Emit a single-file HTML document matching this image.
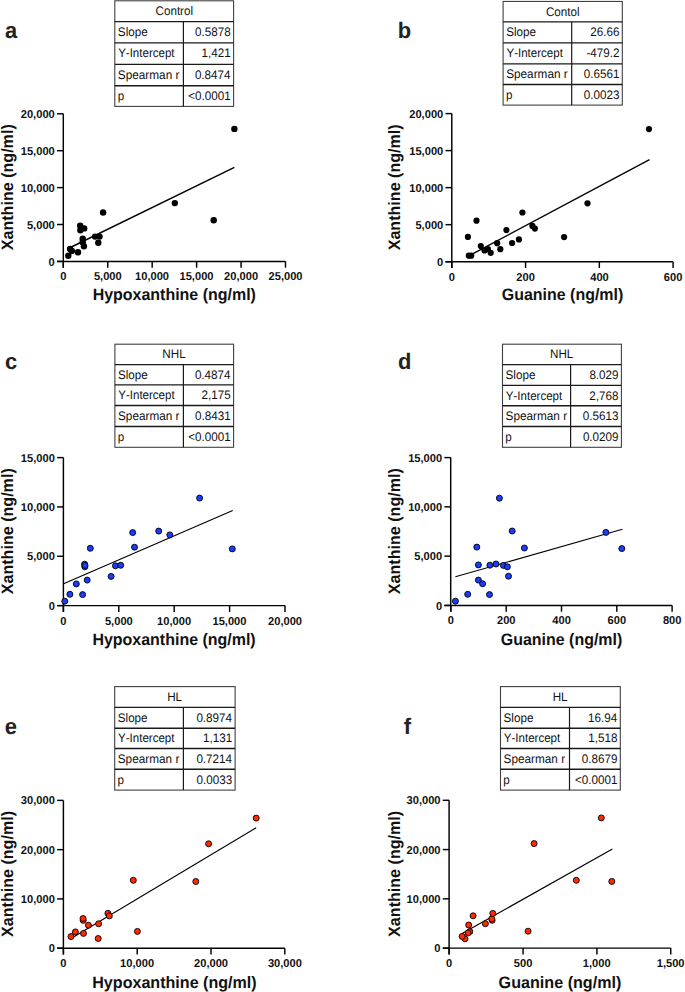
<!DOCTYPE html>
<html><head><meta charset="utf-8"><title>Figure</title>
<style>
html,body{margin:0;padding:0;background:#fff;}
body{width:685px;height:992px;overflow:hidden;}
svg{display:block;font-family:"Liberation Sans", sans-serif;}
text{font-kerning:none;text-rendering:geometricPrecision;}
</style></head>
<body>
<svg width="685" height="992" viewBox="0 0 685 992">
<rect width="685" height="992" fill="#fff"/>
<text x="4.96" y="37.60" font-size="22.5" font-weight="bold" fill="#222" textLength="12.20" lengthAdjust="spacingAndGlyphs">a</text>
<g fill="none" stroke="#1a1a1a">
<rect x="114.80" y="0.80" width="118.80" height="105.60" stroke-width="1.1" stroke="#404040"/>
<line x1="114.80" y1="21.60" x2="233.60" y2="21.60" stroke-width="1.4"/>
<line x1="114.80" y1="42.90" x2="233.60" y2="42.90" stroke-width="1.4"/>
<line x1="114.80" y1="64.40" x2="233.60" y2="64.40" stroke-width="1.4"/>
<line x1="114.80" y1="85.80" x2="233.60" y2="85.80" stroke-width="1.4"/>
<line x1="183.40" y1="21.60" x2="183.40" y2="106.40" stroke-width="1.2"/>
</g>
<text x="155.51" y="15.20" font-size="12.4" font-weight="normal" fill="#111" textLength="37.57" lengthAdjust="spacingAndGlyphs">Control</text>
<text x="117.87" y="36.00" font-size="12.4" font-weight="normal" fill="#111" textLength="29.81" lengthAdjust="spacingAndGlyphs">Slope</text>
<text x="195.06" y="36.00" font-size="12.4" font-weight="normal" fill="#111" textLength="35.65" lengthAdjust="spacingAndGlyphs">0.5878</text>
<text x="118.15" y="57.30" font-size="12.4" font-weight="normal" fill="#111" textLength="56.40" lengthAdjust="spacingAndGlyphs">Y-Intercept</text>
<text x="201.60" y="57.30" font-size="12.4" font-weight="normal" fill="#111" textLength="29.17" lengthAdjust="spacingAndGlyphs">1,421</text>
<text x="117.87" y="78.80" font-size="12.4" font-weight="normal" fill="#111" textLength="61.55" lengthAdjust="spacingAndGlyphs">Spearman r</text>
<text x="194.89" y="78.80" font-size="12.4" font-weight="normal" fill="#111" textLength="35.65" lengthAdjust="spacingAndGlyphs">0.8474</text>
<text x="117.65" y="100.20" font-size="12.4" font-weight="normal" fill="#111" textLength="6.48" lengthAdjust="spacingAndGlyphs">p</text>
<text x="188.31" y="100.20" font-size="12.4" font-weight="normal" fill="#111" textLength="42.46" lengthAdjust="spacingAndGlyphs">&lt;0.0001</text>
<g stroke="#000" stroke-width="1.45" fill="none" stroke-linecap="butt">
<path d="M63.30,113.80 V267.70 M57.00,261.40 H285.50"/>
<path d="M63.30,261.40 v6.3"/>
<path d="M107.74,261.40 v6.3"/>
<path d="M152.18,261.40 v6.3"/>
<path d="M196.62,261.40 v6.3"/>
<path d="M241.06,261.40 v6.3"/>
<path d="M285.50,261.40 v6.3"/>
<path d="M63.30,261.40 h-6.3"/>
<path d="M63.30,224.50 h-6.3"/>
<path d="M63.30,187.60 h-6.3"/>
<path d="M63.30,150.70 h-6.3"/>
<path d="M63.30,113.80 h-6.3"/>
</g>
<text x="60.22" y="280.30" font-size="11.4" font-weight="bold" fill="#111" textLength="6.18" lengthAdjust="spacingAndGlyphs">0</text>
<text x="93.89" y="280.30" font-size="11.4" font-weight="bold" fill="#111" textLength="27.81" lengthAdjust="spacingAndGlyphs">5,000</text>
<text x="135.06" y="280.30" font-size="11.4" font-weight="bold" fill="#111" textLength="34.00" lengthAdjust="spacingAndGlyphs">10,000</text>
<text x="179.50" y="280.30" font-size="11.4" font-weight="bold" fill="#111" textLength="34.00" lengthAdjust="spacingAndGlyphs">15,000</text>
<text x="224.10" y="280.30" font-size="11.4" font-weight="bold" fill="#111" textLength="34.00" lengthAdjust="spacingAndGlyphs">20,000</text>
<text x="268.54" y="280.30" font-size="11.4" font-weight="bold" fill="#111" textLength="34.00" lengthAdjust="spacingAndGlyphs">25,000</text>
<text x="48.57" y="265.50" font-size="11.4" font-weight="bold" fill="#111" textLength="6.18" lengthAdjust="spacingAndGlyphs">0</text>
<text x="26.94" y="228.60" font-size="11.4" font-weight="bold" fill="#111" textLength="27.81" lengthAdjust="spacingAndGlyphs">5,000</text>
<text x="20.76" y="191.70" font-size="11.4" font-weight="bold" fill="#111" textLength="34.00" lengthAdjust="spacingAndGlyphs">10,000</text>
<text x="20.76" y="154.80" font-size="11.4" font-weight="bold" fill="#111" textLength="34.00" lengthAdjust="spacingAndGlyphs">15,000</text>
<text x="20.76" y="117.90" font-size="11.4" font-weight="bold" fill="#111" textLength="34.00" lengthAdjust="spacingAndGlyphs">20,000</text>
<text x="92.63" y="300.30" font-size="16.5" font-weight="bold" fill="#111" textLength="163.27" lengthAdjust="spacingAndGlyphs">Hypoxanthine (ng/ml)</text>
<text transform="rotate(-90)" x="-250.28" y="13.00" font-size="16.5" font-weight="bold" fill="#111" textLength="126.01" lengthAdjust="spacingAndGlyphs">Xanthine (ng/ml)</text>
<line x1="68.30" y1="248.50" x2="234.40" y2="167.40" stroke="#000" stroke-width="1.4"/>
<g fill="#000">
<circle cx="103.10" cy="212.50" r="3.2"/>
<circle cx="80.20" cy="225.70" r="3.2"/>
<circle cx="84.20" cy="228.40" r="3.2"/>
<circle cx="80.40" cy="230.20" r="3.2"/>
<circle cx="82.70" cy="238.80" r="3.2"/>
<circle cx="82.70" cy="242.30" r="3.2"/>
<circle cx="83.90" cy="246.30" r="3.2"/>
<circle cx="95.10" cy="236.60" r="3.2"/>
<circle cx="99.50" cy="236.60" r="3.2"/>
<circle cx="98.30" cy="242.80" r="3.2"/>
<circle cx="70.10" cy="249.00" r="3.2"/>
<circle cx="71.80" cy="251.00" r="3.2"/>
<circle cx="78.00" cy="252.30" r="3.2"/>
<circle cx="68.30" cy="255.80" r="3.2"/>
<circle cx="174.80" cy="203.10" r="3.2"/>
<circle cx="213.70" cy="220.30" r="3.2"/>
<circle cx="234.40" cy="128.90" r="3.2"/>
</g>
<text x="397.75" y="37.70" font-size="22.5" font-weight="bold" fill="#222" textLength="13.40" lengthAdjust="spacingAndGlyphs">b</text>
<g fill="none" stroke="#1a1a1a">
<rect x="503.10" y="1.45" width="119.20" height="103.65" stroke-width="1.1" stroke="#404040"/>
<line x1="503.10" y1="21.90" x2="622.30" y2="21.90" stroke-width="1.4"/>
<line x1="503.10" y1="42.90" x2="622.30" y2="42.90" stroke-width="1.4"/>
<line x1="503.10" y1="63.90" x2="622.30" y2="63.90" stroke-width="1.4"/>
<line x1="503.10" y1="84.50" x2="622.30" y2="84.50" stroke-width="1.4"/>
<line x1="571.70" y1="21.90" x2="571.70" y2="105.10" stroke-width="1.2"/>
</g>
<text x="545.95" y="15.85" font-size="12.4" font-weight="normal" fill="#111" textLength="33.69" lengthAdjust="spacingAndGlyphs">Contol</text>
<text x="506.17" y="36.30" font-size="12.4" font-weight="normal" fill="#111" textLength="29.81" lengthAdjust="spacingAndGlyphs">Slope</text>
<text x="590.24" y="36.30" font-size="12.4" font-weight="normal" fill="#111" textLength="29.17" lengthAdjust="spacingAndGlyphs">26.66</text>
<text x="506.45" y="57.30" font-size="12.4" font-weight="normal" fill="#111" textLength="56.40" lengthAdjust="spacingAndGlyphs">Y-Intercept</text>
<text x="586.44" y="57.30" font-size="12.4" font-weight="normal" fill="#111" textLength="33.05" lengthAdjust="spacingAndGlyphs">-479.2</text>
<text x="506.17" y="78.30" font-size="12.4" font-weight="normal" fill="#111" textLength="61.55" lengthAdjust="spacingAndGlyphs">Spearman r</text>
<text x="583.82" y="78.30" font-size="12.4" font-weight="normal" fill="#111" textLength="35.65" lengthAdjust="spacingAndGlyphs">0.6561</text>
<text x="505.95" y="98.90" font-size="12.4" font-weight="normal" fill="#111" textLength="6.48" lengthAdjust="spacingAndGlyphs">p</text>
<text x="583.76" y="98.90" font-size="12.4" font-weight="normal" fill="#111" textLength="35.65" lengthAdjust="spacingAndGlyphs">0.0023</text>
<g stroke="#000" stroke-width="1.45" fill="none" stroke-linecap="butt">
<path d="M451.80,113.60 V268.00 M445.50,261.70 H673.10"/>
<path d="M451.80,261.70 v6.3"/>
<path d="M525.57,261.70 v6.3"/>
<path d="M599.34,261.70 v6.3"/>
<path d="M673.11,261.70 v6.3"/>
<path d="M451.80,261.70 h-6.3"/>
<path d="M451.80,224.67 h-6.3"/>
<path d="M451.80,187.64 h-6.3"/>
<path d="M451.80,150.61 h-6.3"/>
<path d="M451.80,113.58 h-6.3"/>
</g>
<text x="448.72" y="280.60" font-size="11.4" font-weight="bold" fill="#111" textLength="6.18" lengthAdjust="spacingAndGlyphs">0</text>
<text x="516.33" y="280.60" font-size="11.4" font-weight="bold" fill="#111" textLength="18.54" lengthAdjust="spacingAndGlyphs">200</text>
<text x="590.21" y="280.60" font-size="11.4" font-weight="bold" fill="#111" textLength="18.54" lengthAdjust="spacingAndGlyphs">400</text>
<text x="663.86" y="280.60" font-size="11.4" font-weight="bold" fill="#111" textLength="18.54" lengthAdjust="spacingAndGlyphs">600</text>
<text x="437.07" y="265.80" font-size="11.4" font-weight="bold" fill="#111" textLength="6.18" lengthAdjust="spacingAndGlyphs">0</text>
<text x="415.44" y="228.77" font-size="11.4" font-weight="bold" fill="#111" textLength="27.81" lengthAdjust="spacingAndGlyphs">5,000</text>
<text x="409.26" y="191.74" font-size="11.4" font-weight="bold" fill="#111" textLength="34.00" lengthAdjust="spacingAndGlyphs">10,000</text>
<text x="409.26" y="154.71" font-size="11.4" font-weight="bold" fill="#111" textLength="34.00" lengthAdjust="spacingAndGlyphs">15,000</text>
<text x="409.26" y="117.68" font-size="11.4" font-weight="bold" fill="#111" textLength="34.00" lengthAdjust="spacingAndGlyphs">20,000</text>
<text x="501.74" y="300.30" font-size="16.5" font-weight="bold" fill="#111" textLength="121.56" lengthAdjust="spacingAndGlyphs">Guanine (ng/ml)</text>
<text transform="rotate(-90)" x="-250.33" y="399.90" font-size="16.5" font-weight="bold" fill="#111" textLength="126.01" lengthAdjust="spacingAndGlyphs">Xanthine (ng/ml)</text>
<line x1="467.90" y1="256.40" x2="649.50" y2="159.60" stroke="#000" stroke-width="1.4"/>
<g fill="#000">
<circle cx="476.50" cy="220.70" r="3.1"/>
<circle cx="467.90" cy="236.90" r="3.1"/>
<circle cx="468.80" cy="255.70" r="3.1"/>
<circle cx="471.20" cy="255.70" r="3.1"/>
<circle cx="480.80" cy="246.10" r="3.1"/>
<circle cx="484.50" cy="250.50" r="3.1"/>
<circle cx="487.90" cy="249.20" r="3.1"/>
<circle cx="490.70" cy="252.80" r="3.1"/>
<circle cx="497.20" cy="243.20" r="3.1"/>
<circle cx="500.30" cy="249.20" r="3.1"/>
<circle cx="506.40" cy="230.10" r="3.1"/>
<circle cx="512.10" cy="243.00" r="3.1"/>
<circle cx="518.90" cy="239.40" r="3.1"/>
<circle cx="522.40" cy="212.50" r="3.1"/>
<circle cx="532.40" cy="225.90" r="3.1"/>
<circle cx="534.90" cy="228.60" r="3.1"/>
<circle cx="564.10" cy="237.10" r="3.1"/>
<circle cx="587.50" cy="203.30" r="3.1"/>
<circle cx="649.00" cy="129.10" r="3.1"/>
</g>
<text x="4.94" y="369.00" font-size="22.5" font-weight="bold" fill="#222" textLength="12.20" lengthAdjust="spacingAndGlyphs">c</text>
<g fill="none" stroke="#1a1a1a">
<rect x="114.90" y="344.20" width="118.70" height="103.10" stroke-width="1.1" stroke="#404040"/>
<line x1="114.90" y1="364.60" x2="233.60" y2="364.60" stroke-width="1.4"/>
<line x1="114.90" y1="384.90" x2="233.60" y2="384.90" stroke-width="1.4"/>
<line x1="114.90" y1="405.50" x2="233.60" y2="405.50" stroke-width="1.4"/>
<line x1="114.90" y1="426.50" x2="233.60" y2="426.50" stroke-width="1.4"/>
<line x1="183.40" y1="364.60" x2="183.40" y2="447.30" stroke-width="1.2"/>
</g>
<text x="162.31" y="358.40" font-size="12.4" font-weight="normal" fill="#111" textLength="23.32" lengthAdjust="spacingAndGlyphs">NHL</text>
<text x="117.97" y="378.80" font-size="12.4" font-weight="normal" fill="#111" textLength="29.81" lengthAdjust="spacingAndGlyphs">Slope</text>
<text x="194.89" y="378.80" font-size="12.4" font-weight="normal" fill="#111" textLength="35.65" lengthAdjust="spacingAndGlyphs">0.4874</text>
<text x="118.25" y="399.10" font-size="12.4" font-weight="normal" fill="#111" textLength="56.40" lengthAdjust="spacingAndGlyphs">Y-Intercept</text>
<text x="201.52" y="399.10" font-size="12.4" font-weight="normal" fill="#111" textLength="29.17" lengthAdjust="spacingAndGlyphs">2,175</text>
<text x="117.97" y="419.70" font-size="12.4" font-weight="normal" fill="#111" textLength="61.55" lengthAdjust="spacingAndGlyphs">Spearman r</text>
<text x="195.12" y="419.70" font-size="12.4" font-weight="normal" fill="#111" textLength="35.65" lengthAdjust="spacingAndGlyphs">0.8431</text>
<text x="117.75" y="440.70" font-size="12.4" font-weight="normal" fill="#111" textLength="6.48" lengthAdjust="spacingAndGlyphs">p</text>
<text x="188.31" y="440.70" font-size="12.4" font-weight="normal" fill="#111" textLength="42.46" lengthAdjust="spacingAndGlyphs">&lt;0.0001</text>
<g stroke="#000" stroke-width="1.45" fill="none" stroke-linecap="butt">
<path d="M63.40,457.60 V611.90 M57.10,605.60 H285.00"/>
<path d="M63.40,605.60 v6.3"/>
<path d="M118.80,605.60 v6.3"/>
<path d="M174.20,605.60 v6.3"/>
<path d="M229.60,605.60 v6.3"/>
<path d="M285.00,605.60 v6.3"/>
<path d="M63.40,605.60 h-6.3"/>
<path d="M63.40,556.27 h-6.3"/>
<path d="M63.40,506.94 h-6.3"/>
<path d="M63.40,457.61 h-6.3"/>
</g>
<text x="60.32" y="624.50" font-size="11.4" font-weight="bold" fill="#111" textLength="6.18" lengthAdjust="spacingAndGlyphs">0</text>
<text x="104.95" y="624.50" font-size="11.4" font-weight="bold" fill="#111" textLength="27.81" lengthAdjust="spacingAndGlyphs">5,000</text>
<text x="157.08" y="624.50" font-size="11.4" font-weight="bold" fill="#111" textLength="34.00" lengthAdjust="spacingAndGlyphs">10,000</text>
<text x="212.48" y="624.50" font-size="11.4" font-weight="bold" fill="#111" textLength="34.00" lengthAdjust="spacingAndGlyphs">15,000</text>
<text x="268.04" y="624.50" font-size="11.4" font-weight="bold" fill="#111" textLength="34.00" lengthAdjust="spacingAndGlyphs">20,000</text>
<text x="48.67" y="609.70" font-size="11.4" font-weight="bold" fill="#111" textLength="6.18" lengthAdjust="spacingAndGlyphs">0</text>
<text x="27.04" y="560.37" font-size="11.4" font-weight="bold" fill="#111" textLength="27.81" lengthAdjust="spacingAndGlyphs">5,000</text>
<text x="20.86" y="511.04" font-size="11.4" font-weight="bold" fill="#111" textLength="34.00" lengthAdjust="spacingAndGlyphs">10,000</text>
<text x="20.86" y="461.71" font-size="11.4" font-weight="bold" fill="#111" textLength="34.00" lengthAdjust="spacingAndGlyphs">15,000</text>
<text x="92.43" y="645.30" font-size="16.5" font-weight="bold" fill="#111" textLength="163.27" lengthAdjust="spacingAndGlyphs">Hypoxanthine (ng/ml)</text>
<text transform="rotate(-90)" x="-594.28" y="13.00" font-size="16.5" font-weight="bold" fill="#111" textLength="126.01" lengthAdjust="spacingAndGlyphs">Xanthine (ng/ml)</text>
<line x1="63.60" y1="583.80" x2="232.70" y2="510.50" stroke="#000" stroke-width="1.15"/>
<g fill="#1a3cff" stroke="#000" stroke-width="0.9">
<circle cx="64.80" cy="601.20" r="3.0"/>
<circle cx="69.90" cy="594.30" r="3.0"/>
<circle cx="76.30" cy="583.90" r="3.0"/>
<circle cx="82.60" cy="594.60" r="3.0"/>
<circle cx="84.60" cy="564.20" r="3.0"/>
<circle cx="84.80" cy="566.80" r="3.0"/>
<circle cx="85.00" cy="565.40" r="3.0"/>
<circle cx="87.20" cy="580.10" r="3.0"/>
<circle cx="90.30" cy="548.30" r="3.0"/>
<circle cx="111.10" cy="576.40" r="3.0"/>
<circle cx="115.50" cy="565.80" r="3.0"/>
<circle cx="120.70" cy="565.30" r="3.0"/>
<circle cx="132.70" cy="532.60" r="3.0"/>
<circle cx="134.50" cy="547.20" r="3.0"/>
<circle cx="158.70" cy="531.10" r="3.0"/>
<circle cx="169.80" cy="534.90" r="3.0"/>
<circle cx="199.60" cy="498.10" r="3.0"/>
<circle cx="232.30" cy="548.90" r="3.0"/>
</g>
<text x="397.90" y="368.70" font-size="22.5" font-weight="bold" fill="#222" textLength="13.40" lengthAdjust="spacingAndGlyphs">d</text>
<g fill="none" stroke="#1a1a1a">
<rect x="502.50" y="344.20" width="118.90" height="103.10" stroke-width="1.1" stroke="#404040"/>
<line x1="502.50" y1="364.60" x2="621.40" y2="364.60" stroke-width="1.4"/>
<line x1="502.50" y1="385.40" x2="621.40" y2="385.40" stroke-width="1.4"/>
<line x1="502.50" y1="405.70" x2="621.40" y2="405.70" stroke-width="1.4"/>
<line x1="502.50" y1="426.50" x2="621.40" y2="426.50" stroke-width="1.4"/>
<line x1="570.60" y1="364.60" x2="570.60" y2="447.30" stroke-width="1.2"/>
</g>
<text x="550.01" y="358.40" font-size="12.4" font-weight="normal" fill="#111" textLength="23.32" lengthAdjust="spacingAndGlyphs">NHL</text>
<text x="505.57" y="378.80" font-size="12.4" font-weight="normal" fill="#111" textLength="29.81" lengthAdjust="spacingAndGlyphs">Slope</text>
<text x="589.38" y="378.80" font-size="12.4" font-weight="normal" fill="#111" textLength="29.17" lengthAdjust="spacingAndGlyphs">8.029</text>
<text x="505.85" y="399.60" font-size="12.4" font-weight="normal" fill="#111" textLength="56.40" lengthAdjust="spacingAndGlyphs">Y-Intercept</text>
<text x="589.34" y="399.60" font-size="12.4" font-weight="normal" fill="#111" textLength="29.17" lengthAdjust="spacingAndGlyphs">2,768</text>
<text x="505.57" y="419.90" font-size="12.4" font-weight="normal" fill="#111" textLength="61.55" lengthAdjust="spacingAndGlyphs">Spearman r</text>
<text x="582.86" y="419.90" font-size="12.4" font-weight="normal" fill="#111" textLength="35.65" lengthAdjust="spacingAndGlyphs">0.5613</text>
<text x="505.35" y="440.70" font-size="12.4" font-weight="normal" fill="#111" textLength="6.48" lengthAdjust="spacingAndGlyphs">p</text>
<text x="582.90" y="440.70" font-size="12.4" font-weight="normal" fill="#111" textLength="35.65" lengthAdjust="spacingAndGlyphs">0.0209</text>
<g stroke="#000" stroke-width="1.45" fill="none" stroke-linecap="butt">
<path d="M450.70,457.60 V611.70 M444.40,605.40 H672.20"/>
<path d="M450.90,605.40 v6.3"/>
<path d="M506.20,605.40 v6.3"/>
<path d="M561.50,605.40 v6.3"/>
<path d="M616.80,605.40 v6.3"/>
<path d="M672.10,605.40 v6.3"/>
<path d="M450.70,605.40 h-6.3"/>
<path d="M450.70,556.13 h-6.3"/>
<path d="M450.70,506.86 h-6.3"/>
<path d="M450.70,457.59 h-6.3"/>
</g>
<text x="447.82" y="624.30" font-size="11.4" font-weight="bold" fill="#111" textLength="6.18" lengthAdjust="spacingAndGlyphs">0</text>
<text x="496.96" y="624.30" font-size="11.4" font-weight="bold" fill="#111" textLength="18.54" lengthAdjust="spacingAndGlyphs">200</text>
<text x="552.37" y="624.30" font-size="11.4" font-weight="bold" fill="#111" textLength="18.54" lengthAdjust="spacingAndGlyphs">400</text>
<text x="607.55" y="624.30" font-size="11.4" font-weight="bold" fill="#111" textLength="18.54" lengthAdjust="spacingAndGlyphs">600</text>
<text x="662.88" y="624.30" font-size="11.4" font-weight="bold" fill="#111" textLength="18.54" lengthAdjust="spacingAndGlyphs">800</text>
<text x="435.97" y="609.50" font-size="11.4" font-weight="bold" fill="#111" textLength="6.18" lengthAdjust="spacingAndGlyphs">0</text>
<text x="414.34" y="560.23" font-size="11.4" font-weight="bold" fill="#111" textLength="27.81" lengthAdjust="spacingAndGlyphs">5,000</text>
<text x="408.16" y="510.96" font-size="11.4" font-weight="bold" fill="#111" textLength="34.00" lengthAdjust="spacingAndGlyphs">10,000</text>
<text x="408.16" y="461.69" font-size="11.4" font-weight="bold" fill="#111" textLength="34.00" lengthAdjust="spacingAndGlyphs">15,000</text>
<text x="500.74" y="645.20" font-size="16.5" font-weight="bold" fill="#111" textLength="121.56" lengthAdjust="spacingAndGlyphs">Guanine (ng/ml)</text>
<text transform="rotate(-90)" x="-594.18" y="399.90" font-size="16.5" font-weight="bold" fill="#111" textLength="126.01" lengthAdjust="spacingAndGlyphs">Xanthine (ng/ml)</text>
<line x1="455.40" y1="576.80" x2="622.40" y2="529.20" stroke="#000" stroke-width="1.15"/>
<g fill="#1a3cff" stroke="#000" stroke-width="0.9">
<circle cx="455.40" cy="601.20" r="3.0"/>
<circle cx="467.70" cy="594.30" r="3.0"/>
<circle cx="476.80" cy="547.10" r="3.0"/>
<circle cx="478.40" cy="564.90" r="3.0"/>
<circle cx="478.40" cy="580.10" r="3.0"/>
<circle cx="482.60" cy="583.70" r="3.0"/>
<circle cx="489.50" cy="594.60" r="3.0"/>
<circle cx="489.90" cy="565.20" r="3.0"/>
<circle cx="496.00" cy="564.00" r="3.0"/>
<circle cx="499.40" cy="498.20" r="3.0"/>
<circle cx="503.40" cy="565.40" r="3.0"/>
<circle cx="507.40" cy="566.80" r="3.0"/>
<circle cx="508.50" cy="576.20" r="3.0"/>
<circle cx="512.20" cy="531.00" r="3.0"/>
<circle cx="524.40" cy="548.00" r="3.0"/>
<circle cx="605.90" cy="532.40" r="3.0"/>
<circle cx="621.80" cy="548.60" r="3.0"/>
</g>
<text x="4.74" y="733.80" font-size="22.5" font-weight="bold" fill="#222" textLength="12.20" lengthAdjust="spacingAndGlyphs">e</text>
<g fill="none" stroke="#1a1a1a">
<rect x="114.70" y="686.60" width="120.40" height="103.50" stroke-width="1.1" stroke="#404040"/>
<line x1="114.70" y1="707.40" x2="235.10" y2="707.40" stroke-width="1.4"/>
<line x1="114.70" y1="728.20" x2="235.10" y2="728.20" stroke-width="1.4"/>
<line x1="114.70" y1="748.50" x2="235.10" y2="748.50" stroke-width="1.4"/>
<line x1="114.70" y1="769.30" x2="235.10" y2="769.30" stroke-width="1.4"/>
<line x1="183.40" y1="707.40" x2="183.40" y2="790.10" stroke-width="1.2"/>
</g>
<text x="167.17" y="700.80" font-size="12.4" font-weight="normal" fill="#111" textLength="14.90" lengthAdjust="spacingAndGlyphs">HL</text>
<text x="117.77" y="721.60" font-size="12.4" font-weight="normal" fill="#111" textLength="29.81" lengthAdjust="spacingAndGlyphs">Slope</text>
<text x="196.39" y="721.60" font-size="12.4" font-weight="normal" fill="#111" textLength="35.65" lengthAdjust="spacingAndGlyphs">0.8974</text>
<text x="118.05" y="742.40" font-size="12.4" font-weight="normal" fill="#111" textLength="56.40" lengthAdjust="spacingAndGlyphs">Y-Intercept</text>
<text x="203.10" y="742.40" font-size="12.4" font-weight="normal" fill="#111" textLength="29.17" lengthAdjust="spacingAndGlyphs">1,131</text>
<text x="117.77" y="762.70" font-size="12.4" font-weight="normal" fill="#111" textLength="61.55" lengthAdjust="spacingAndGlyphs">Spearman r</text>
<text x="196.39" y="762.70" font-size="12.4" font-weight="normal" fill="#111" textLength="35.65" lengthAdjust="spacingAndGlyphs">0.7214</text>
<text x="117.55" y="783.50" font-size="12.4" font-weight="normal" fill="#111" textLength="6.48" lengthAdjust="spacingAndGlyphs">p</text>
<text x="196.56" y="783.50" font-size="12.4" font-weight="normal" fill="#111" textLength="35.65" lengthAdjust="spacingAndGlyphs">0.0033</text>
<g stroke="#000" stroke-width="1.45" fill="none" stroke-linecap="butt">
<path d="M63.40,800.40 V954.50 M57.10,948.20 H285.00"/>
<path d="M63.40,948.20 v6.3"/>
<path d="M137.20,948.20 v6.3"/>
<path d="M211.00,948.20 v6.3"/>
<path d="M284.80,948.20 v6.3"/>
<path d="M63.40,948.20 h-6.3"/>
<path d="M63.40,898.93 h-6.3"/>
<path d="M63.40,849.66 h-6.3"/>
<path d="M63.40,800.39 h-6.3"/>
</g>
<text x="60.32" y="967.10" font-size="11.4" font-weight="bold" fill="#111" textLength="6.18" lengthAdjust="spacingAndGlyphs">0</text>
<text x="120.08" y="967.10" font-size="11.4" font-weight="bold" fill="#111" textLength="34.00" lengthAdjust="spacingAndGlyphs">10,000</text>
<text x="194.04" y="967.10" font-size="11.4" font-weight="bold" fill="#111" textLength="34.00" lengthAdjust="spacingAndGlyphs">20,000</text>
<text x="267.90" y="967.10" font-size="11.4" font-weight="bold" fill="#111" textLength="34.00" lengthAdjust="spacingAndGlyphs">30,000</text>
<text x="48.67" y="952.30" font-size="11.4" font-weight="bold" fill="#111" textLength="6.18" lengthAdjust="spacingAndGlyphs">0</text>
<text x="20.86" y="903.03" font-size="11.4" font-weight="bold" fill="#111" textLength="34.00" lengthAdjust="spacingAndGlyphs">10,000</text>
<text x="20.86" y="853.76" font-size="11.4" font-weight="bold" fill="#111" textLength="34.00" lengthAdjust="spacingAndGlyphs">20,000</text>
<text x="20.86" y="804.49" font-size="11.4" font-weight="bold" fill="#111" textLength="34.00" lengthAdjust="spacingAndGlyphs">30,000</text>
<text x="92.24" y="988.00" font-size="16.5" font-weight="bold" fill="#111" textLength="164.45" lengthAdjust="spacingAndGlyphs">Hypoxanthine (ng/ml)</text>
<text transform="rotate(-90)" x="-936.98" y="13.00" font-size="16.5" font-weight="bold" fill="#111" textLength="126.01" lengthAdjust="spacingAndGlyphs">Xanthine (ng/ml)</text>
<line x1="71.00" y1="938.40" x2="256.20" y2="827.70" stroke="#000" stroke-width="1.15"/>
<g fill="#ff2a00" stroke="#000" stroke-width="0.9">
<circle cx="71.00" cy="936.60" r="3.0"/>
<circle cx="75.40" cy="931.90" r="3.0"/>
<circle cx="83.20" cy="920.30" r="3.0"/>
<circle cx="83.00" cy="918.50" r="3.0"/>
<circle cx="83.50" cy="933.40" r="3.0"/>
<circle cx="88.40" cy="925.20" r="3.0"/>
<circle cx="98.60" cy="923.80" r="3.0"/>
<circle cx="98.20" cy="938.50" r="3.0"/>
<circle cx="107.90" cy="913.30" r="3.0"/>
<circle cx="109.30" cy="915.90" r="3.0"/>
<circle cx="133.30" cy="880.30" r="3.0"/>
<circle cx="137.40" cy="931.40" r="3.0"/>
<circle cx="195.80" cy="881.50" r="3.0"/>
<circle cx="208.60" cy="843.80" r="3.0"/>
<circle cx="256.20" cy="818.10" r="3.0"/>
</g>
<text x="403.63" y="733.50" font-size="22.5" font-weight="bold" fill="#222" textLength="7.31" lengthAdjust="spacingAndGlyphs">f</text>
<g fill="none" stroke="#1a1a1a">
<rect x="500.50" y="686.60" width="119.80" height="103.50" stroke-width="1.1" stroke="#404040"/>
<line x1="500.50" y1="707.40" x2="620.30" y2="707.40" stroke-width="1.4"/>
<line x1="500.50" y1="728.20" x2="620.30" y2="728.20" stroke-width="1.4"/>
<line x1="500.50" y1="748.50" x2="620.30" y2="748.50" stroke-width="1.4"/>
<line x1="500.50" y1="769.30" x2="620.30" y2="769.30" stroke-width="1.4"/>
<line x1="569.50" y1="707.40" x2="569.50" y2="790.10" stroke-width="1.2"/>
</g>
<text x="552.67" y="700.80" font-size="12.4" font-weight="normal" fill="#111" textLength="14.90" lengthAdjust="spacingAndGlyphs">HL</text>
<text x="503.57" y="721.60" font-size="12.4" font-weight="normal" fill="#111" textLength="29.81" lengthAdjust="spacingAndGlyphs">Slope</text>
<text x="588.07" y="721.60" font-size="12.4" font-weight="normal" fill="#111" textLength="29.17" lengthAdjust="spacingAndGlyphs">16.94</text>
<text x="503.85" y="742.40" font-size="12.4" font-weight="normal" fill="#111" textLength="56.40" lengthAdjust="spacingAndGlyphs">Y-Intercept</text>
<text x="588.24" y="742.40" font-size="12.4" font-weight="normal" fill="#111" textLength="29.17" lengthAdjust="spacingAndGlyphs">1,518</text>
<text x="503.57" y="762.70" font-size="12.4" font-weight="normal" fill="#111" textLength="61.55" lengthAdjust="spacingAndGlyphs">Spearman r</text>
<text x="581.80" y="762.70" font-size="12.4" font-weight="normal" fill="#111" textLength="35.65" lengthAdjust="spacingAndGlyphs">0.8679</text>
<text x="503.35" y="783.50" font-size="12.4" font-weight="normal" fill="#111" textLength="6.48" lengthAdjust="spacingAndGlyphs">p</text>
<text x="575.01" y="783.50" font-size="12.4" font-weight="normal" fill="#111" textLength="42.46" lengthAdjust="spacingAndGlyphs">&lt;0.0001</text>
<g stroke="#000" stroke-width="1.45" fill="none" stroke-linecap="butt">
<path d="M449.10,800.30 V954.40 M442.80,948.10 H670.80"/>
<path d="M449.20,948.10 v6.3"/>
<path d="M523.05,948.10 v6.3"/>
<path d="M596.90,948.10 v6.3"/>
<path d="M670.75,948.10 v6.3"/>
<path d="M449.10,948.10 h-6.3"/>
<path d="M449.10,898.83 h-6.3"/>
<path d="M449.10,849.56 h-6.3"/>
<path d="M449.10,800.29 h-6.3"/>
</g>
<text x="446.12" y="967.00" font-size="11.4" font-weight="bold" fill="#111" textLength="6.18" lengthAdjust="spacingAndGlyphs">0</text>
<text x="513.83" y="967.00" font-size="11.4" font-weight="bold" fill="#111" textLength="18.54" lengthAdjust="spacingAndGlyphs">500</text>
<text x="582.87" y="967.00" font-size="11.4" font-weight="bold" fill="#111" textLength="27.81" lengthAdjust="spacingAndGlyphs">1,000</text>
<text x="656.72" y="967.00" font-size="11.4" font-weight="bold" fill="#111" textLength="27.81" lengthAdjust="spacingAndGlyphs">1,500</text>
<text x="434.37" y="952.20" font-size="11.4" font-weight="bold" fill="#111" textLength="6.18" lengthAdjust="spacingAndGlyphs">0</text>
<text x="406.56" y="902.93" font-size="11.4" font-weight="bold" fill="#111" textLength="34.00" lengthAdjust="spacingAndGlyphs">10,000</text>
<text x="406.56" y="853.66" font-size="11.4" font-weight="bold" fill="#111" textLength="34.00" lengthAdjust="spacingAndGlyphs">20,000</text>
<text x="406.56" y="804.39" font-size="11.4" font-weight="bold" fill="#111" textLength="34.00" lengthAdjust="spacingAndGlyphs">30,000</text>
<text x="498.61" y="988.00" font-size="16.5" font-weight="bold" fill="#111" textLength="122.82" lengthAdjust="spacingAndGlyphs">Guanine (ng/ml)</text>
<text transform="rotate(-90)" x="-936.88" y="400.00" font-size="16.5" font-weight="bold" fill="#111" textLength="126.01" lengthAdjust="spacingAndGlyphs">Xanthine (ng/ml)</text>
<line x1="462.10" y1="933.60" x2="612.40" y2="849.00" stroke="#000" stroke-width="1.15"/>
<g fill="#ff2a00" stroke="#000" stroke-width="0.9">
<circle cx="465.00" cy="938.80" r="3.0"/>
<circle cx="462.10" cy="936.40" r="3.0"/>
<circle cx="469.80" cy="931.60" r="3.0"/>
<circle cx="468.10" cy="932.90" r="3.0"/>
<circle cx="468.70" cy="925.00" r="3.0"/>
<circle cx="473.10" cy="915.80" r="3.0"/>
<circle cx="485.40" cy="923.70" r="3.0"/>
<circle cx="492.10" cy="920.30" r="3.0"/>
<circle cx="491.80" cy="918.80" r="3.0"/>
<circle cx="492.80" cy="913.40" r="3.0"/>
<circle cx="528.10" cy="931.20" r="3.0"/>
<circle cx="534.10" cy="843.60" r="3.0"/>
<circle cx="576.30" cy="880.30" r="3.0"/>
<circle cx="601.30" cy="817.90" r="3.0"/>
<circle cx="611.80" cy="881.40" r="3.0"/>
</g>
</svg>
</body></html>
